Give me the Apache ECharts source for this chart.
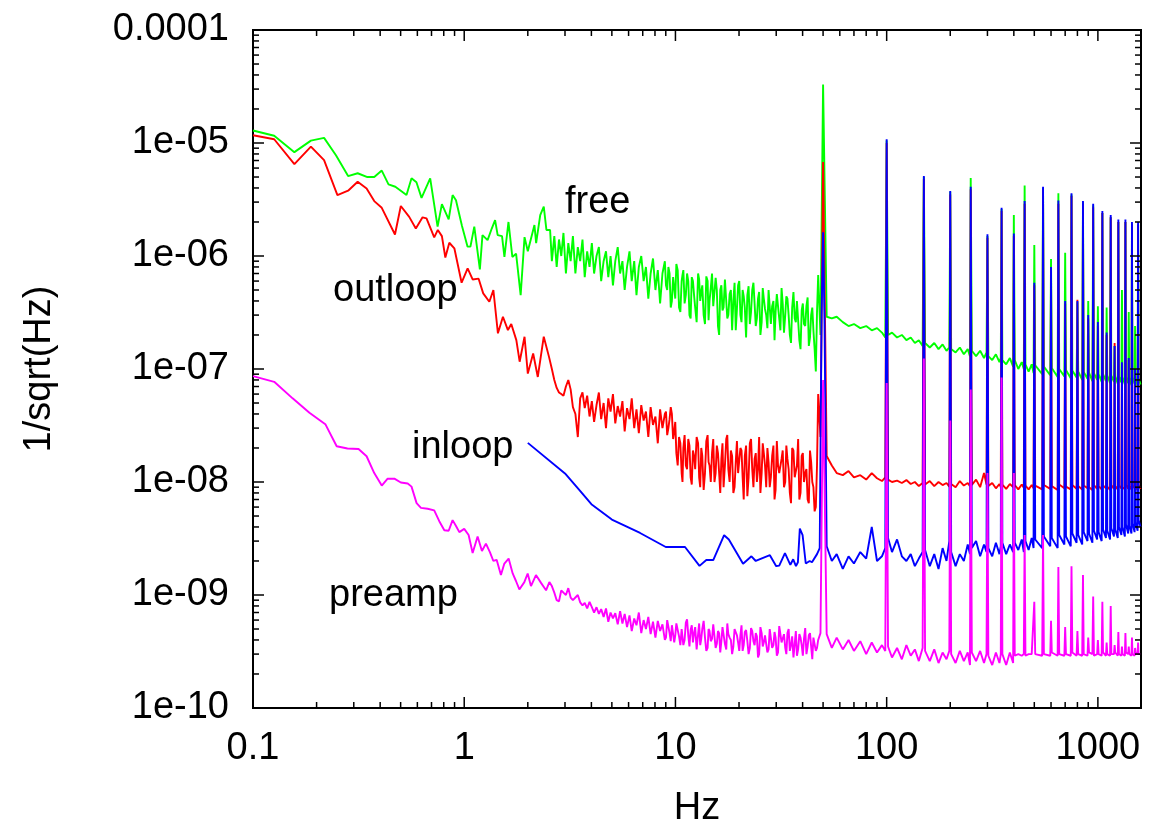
<!DOCTYPE html>
<html>
<head>
<meta charset="utf-8">
<script src="https://cdn.jsdelivr.net/npm/echarts@6/dist/echarts.min.js"></script>
<style>
  html, body { margin: 0; padding: 0; background: #fff; }
  #chart { width: 1162px; height: 825px; }
</style>
</head>
<body>
<div id="chart"></div>
<script>
// tick labels
const xTickLabels = ['0.1', '1', '10', '100', '1000'];
const yTickLabels = ['1e-10', '1e-09', '1e-08', '1e-07', '1e-06', '1e-05', '0.0001'];
const xMajorTicks = [0.1, 1, 10, 100, 1000];
const yMajorTicks = [1e-10, 1e-9, 1e-8, 1e-7, 1e-6, 1e-5, 1e-4];
const minorSteps = [2, 3, 4, 5, 6, 7, 8, 9];

// shared frequency bins (Hz)
const freqMid = [
  2.6, 2.67, 2.74, 2.81, 2.88, 2.95, 3.03, 3.11, 3.19, 3.27,
  3.36, 3.45, 3.54, 3.63, 3.72, 3.82, 3.92, 4.02, 4.12, 4.23,
  4.34, 4.45, 4.57, 4.69, 4.81, 4.93, 5.06, 5.19, 5.33, 5.47,
  5.61, 5.75, 5.9, 6.06, 6.21, 6.38, 6.54, 6.71, 6.89, 7.07,
  7.25, 7.44, 7.63, 7.83, 8.04, 8.25, 8.46, 8.68, 8.91, 9.14,
  9.38, 9.62, 9.87, 10.1, 10.4, 10.7, 10.9, 11.2, 11.5, 11.8,
  12.1, 12.4, 12.8, 13.1, 13.4, 13.8, 14.2, 14.5, 14.9, 15.3,
  15.7, 16.1, 16.5, 16.9, 17.4, 17.8, 18.3, 18.8, 19.3, 19.8,
  20.3, 20.8, 21.3, 21.9, 22.5, 23.1, 23.7, 24.3, 24.9, 25.6,
  26.2, 26.9, 27.6, 28.3, 29.1, 29.8, 30.6, 31.4, 32.2, 33.1,
  33.9, 34.8, 35.7, 36.7, 37.6, 38.6, 39.6, 40.6, 41.7, 42.8,
  43.9, 45, 46.2, 47.4, 48.6
];
// extra bins between the ones above, 9-47 Hz
const freqMid2 = [
  9.02, 9.26, 9.5, 9.75, 9.98, 10.25, 10.55, 10.8, 11.05, 11.35,
  11.65, 11.95, 12.25, 12.6, 12.95, 13.25, 13.6, 14.0, 14.35, 14.7,
  15.1, 15.5, 15.9, 16.3, 16.7, 17.15, 17.6, 18.05, 18.55, 19.05,
  19.55, 20.05, 20.55, 21.05, 21.6, 22.2, 22.8, 23.4, 24.0, 24.6,
  25.25, 25.9, 26.55, 27.25, 27.95, 28.7, 29.45, 30.2, 31.0, 31.8,
  32.65, 33.5, 34.35, 35.25, 36.2, 37.15, 38.1, 39.1, 40.1, 41.15,
  42.25, 43.35, 44.45, 45.6, 46.8
];
const freqHigh = [
  52, 55, 58, 62, 66, 70, 75, 80, 85, 90, 95, 98.5,
  101.5, 106, 112, 118, 124, 130, 136, 142, 148,
  152, 160, 168, 176, 184, 192, 198,
  202, 212, 222, 232, 242, 248,
  253, 265, 277, 289, 297,
  303, 316, 329, 342, 347,
  353, 368, 383, 397,
  404, 420, 436, 446,
  454, 470, 486, 496,
  505, 545, 555, 595, 605, 645, 656, 694, 706, 744, 757, 793, 807, 843, 857, 893, 908, 942, 958, 992,
  1008, 1042, 1058, 1092, 1108, 1142, 1158, 1192, 1208, 1242, 1258, 1292, 1308, 1342, 1358, 1392, 1408, 1442, 1458, 1492, 1508, 1542, 1558, 1592
];
const harmonics = [50, 100, 150, 200, 250, 300, 350, 400, 450, 500, 550, 600, 650, 700, 750, 800,
  850, 900, 950, 1000, 1050, 1100, 1150, 1200, 1250, 1300, 1350, 1400, 1450, 1500, 1550];

// free (mid/high in units of 1e-7)
const freeLow = [
  [0.1, 1.29e-5], [0.126, 1.16e-5], [0.157, 8.3e-6], [0.188, 1.05e-5], [0.217, 1.11e-5], [0.247, 7.8e-6],
  [0.282, 5.1e-6], [0.313, 5.4e-6], [0.348, 5.0e-6], [0.375, 5.0e-6], [0.407, 5.7e-6], [0.438, 4.3e-6],
  [0.472, 4.1e-6], [0.533, 3.46e-6], [0.563, 4.87e-6], [0.594, 4.49e-6], [0.628, 3.27e-6], [0.69, 4.87e-6],
  [0.748, 1.82e-6], [0.784, 2.88e-6], [0.844, 2.11e-6], [0.881, 3.46e-6], [0.914, 3.12e-6], [0.976, 1.84e-6],
  [1.037, 1.21e-6], [1.07, 1.21e-6], [1.116, 1.82e-6], [1.186, 7.6e-7], [1.22, 1.53e-6], [1.29, 1.38e-6],
  [1.35, 1.75e-6], [1.40, 2.08e-6], [1.44, 1.53e-6], [1.51, 1.5e-6], [1.55, 9.8e-7], [1.62, 2.0e-6],
  [1.69, 9.8e-7], [1.76, 1.05e-6], [1.85, 4.5e-7], [1.93, 1.47e-6], [2.0, 1.1e-6], [2.15, 1.88e-6],
  [2.19, 1.3e-6], [2.29, 2.3e-6], [2.38, 2.73e-6], [2.45, 1.7e-6], [2.55, 1.7e-6]
];
const freeMid = [
  9, 15, 8, 14, 10, 16, 7, 13, 9, 15,
  7, 12, 9, 14, 6.5, 11, 8, 13, 7, 10,
  12, 6, 9, 11, 6.5, 10, 5.5, 9, 12, 7,
  9, 5, 8, 11, 6, 9, 4.5, 8, 10, 6,
  8, 4.2, 7, 9.5, 5, 7.5, 3.8, 7, 9, 5,
  7, 4, 6.5, 8.5, 3.5, 6, 7.5, 4.5, 6, 2.8,
  6, 3.5, 7, 4, 5.5, 2.5, 6, 4, 7, 3.5,
  5, 2, 5.5, 3.5, 6, 3, 5, 4, 2.2, 5.5,
  3, 5, 3.5, 4.5, 2.5, 5, 3.8, 2.8, 4.8, 2.6,
  4.2, 3, 5, 2.5, 4, 3.2, 4.5, 2.2, 3.8, 3,
  4.2, 2, 3.5, 2.8, 4, 1.8, 3.3, 2.5, 3.6, 1.6,
  3, 2.2, 0.95, 6.8, 2
];
const freeMid2 = [
  5.5, 8, 3.5, 6.5, 4.2, 7.5, 3.2, 6.8, 3.8, 7,
  3, 6.5, 4.5, 2.6, 6.2, 4.8, 3, 6.6, 2.7, 5.2,
  3.6, 6.4, 2.4, 5, 3.3, 6.2, 2.8, 4.6, 2.2, 5.8,
  3.4, 6, 2.6, 4.4, 1.9, 5.4, 3.2, 5.8, 2.4, 4.2,
  2, 5.2, 3.4, 2.3, 5, 3.6, 1.8, 4.6, 2.8, 5.2,
  2.1, 4.4, 3, 1.7, 4.8, 2.6, 4, 1.5, 3.8, 2.4,
  4.3, 1.9, 3.5, 1.5, 3.2
];
const freeHigh = [
  2.9, 2.8, 2.9, 2.6, 2.4, 2.5, 2.3, 2.4, 2.2, 2.3, 2.1, 1.9,
  2.0, 2.1, 1.9, 2.0, 1.8, 1.9, 1.7, 1.8, 1.6,
  1.7, 1.55, 1.7, 1.5, 1.65, 1.45, 1.55,
  1.5, 1.4, 1.55, 1.35, 1.5, 1.3,
  1.45, 1.3, 1.45, 1.25, 1.4,
  1.3, 1.2, 1.35, 1.15, 1.25,
  1.2, 1.1, 1.25, 1.05,
  1.2, 1.0, 1.15, 1.0,
  1.1, 0.95, 1.1, 0.92,
  1.08, 0.9, 1.05, 0.88, 1.02, 0.85, 1.0, 0.86, 0.98, 0.83, 0.97, 0.84, 0.95, 0.8, 0.94, 0.82, 0.93, 0.78, 0.92, 0.8,
  0.9, 0.77, 0.9, 0.78, 0.88, 0.75, 0.88, 0.77, 0.86, 0.74, 0.86, 0.76, 0.85, 0.73, 0.85, 0.75, 0.84, 0.72, 0.84, 0.74, 0.83, 0.71, 0.83, 0.73
];
const freePeaks = [3.3e-5, 1.05e-5, 5e-6, 3.7e-6, 4.9e-6, 1.5e-6, 2.6e-6, 2.3e-6, 4.2e-6, 1.25e-6, 4e-6, 9.4e-7,
  3.6e-6, 1.07e-6, 3.5e-6, 3.9e-7, 3e-6, 4e-7, 2.8e-6, 3.6e-7, 2.4e-6, 3.5e-7, 2.2e-6, 1.6e-7, 2e-6, 5e-7,
  2e-6, 3.2e-7, 1.9e-6, 2.4e-7, 1.9e-6];

// outloop (mid/high in units of 1e-9)
const outloopLow = [
  [0.1, 1.17e-5], [0.126, 1.08e-5], [0.157, 6.5e-6], [0.188, 9.3e-6], [0.217, 7.06e-6], [0.251, 3.46e-6],
  [0.282, 3.78e-6], [0.313, 4.54e-6], [0.345, 3.96e-6], [0.375, 3.06e-6], [0.407, 2.67e-6], [0.47, 1.55e-6],
  [0.501, 2.77e-6], [0.549, 2.22e-6], [0.59, 1.75e-6], [0.635, 2.2e-6], [0.663, 2.15e-6], [0.721, 1.46e-6],
  [0.75, 1.7e-6], [0.784, 1.5e-6], [0.814, 9.7e-7], [0.85, 1.31e-6], [0.898, 1.17e-6], [0.972, 5.8e-7],
  [1.038, 7.76e-7], [1.096, 6.2e-7], [1.17, 6.3e-7], [1.23, 4.67e-7], [1.315, 3.94e-7], [1.374, 5.0e-7],
  [1.444, 2.07e-7], [1.525, 2.9e-7], [1.61, 2.21e-7], [1.67, 2.5e-7], [1.765, 1.8e-7], [1.83, 1.16e-7],
  [1.93, 1.93e-7], [2.0, 9.1e-8], [2.12, 1.37e-7], [2.23, 8.5e-8], [2.38, 1.93e-7], [2.52, 1.28e-7]
];
const outloopMid = [
  100, 80, 68, 62, 60, 58, 70, 80, 66, 46,
  40, 25, 55, 62, 45, 58, 38, 52, 34, 48,
  62, 36, 50, 30, 55, 42, 60, 33, 47, 38,
  52, 28, 45, 36, 55, 30, 44, 27, 48, 35,
  42, 25, 46, 32, 38, 22, 44, 30, 40, 26,
  36, 40, 28, 18, 25, 12, 20, 14, 24, 11,
  19, 13, 22, 9, 17, 12, 26, 14, 18, 10,
  21, 12, 16, 9, 24, 13, 19, 8, 15, 12,
  20, 11, 17, 7.5, 22, 13, 16, 10, 25, 12,
  18, 9, 15, 11, 21, 8.5, 14, 12, 19, 10,
  16, 8, 20, 11, 14, 7, 17, 10, 13, 6.5,
  15, 9, 6, 60, 25
];
const outloopMid2 = [
  42, 30, 46, 24, 34, 14, 22, 10, 26, 13,
  21, 9.5, 17, 25, 11, 20, 8.5, 23, 15, 10,
  24, 12, 18, 8, 22, 14, 26, 10, 17, 9,
  23, 12, 19, 7, 21, 11, 24, 9, 18, 13,
  8, 22, 14, 20, 9, 17, 7, 23, 12, 16,
  9, 21, 13, 6.5, 19, 11, 24, 8, 18, 12,
  7, 19, 10, 5.5, 14
];
const outloopHigh = [
  17, 14, 12, 11.5, 12.5, 11, 11.5, 10.5, 12, 10.8, 10.2, 11,
  10.5, 10, 10.3, 9.8, 10.4, 9.6, 10, 9.2, 9.8,
  9.5, 10.2, 9.2, 10, 9.4, 9.8, 9.1,
  9.6, 9.0, 10.2, 9.3, 9.8, 9.2,
  9.4, 10.5, 9, 12, 9.5,
  9.2, 9.8, 8.8, 9.6, 9.0,
  9.5, 8.7, 9.6, 9,
  9.4, 8.6, 9.5, 8.9,
  9.3, 8.6, 9.4, 8.8,
  9.3, 8.6, 9.4, 8.7, 9.2, 8.5, 9.5, 8.8, 9.1, 8.6, 9.4, 8.7, 9.2, 8.6, 9.3, 8.8, 9.0, 8.5, 9.4, 8.7,
  9.2, 8.6, 9.3, 8.8, 9.1, 8.5, 9.4, 8.7, 9.2, 8.6, 9.3, 8.8, 9.0, 8.6, 9.4, 8.7, 9.2, 8.6, 9.3, 8.8, 9.1, 8.5, 9.4, 8.7
];
const outloopPeaks = [6.8e-6, 1.0e-5, 4.8e-6, 3.5e-6, 3.9e-6, 1.45e-6, 2.5e-6, 1.5e-6, 2.9e-6, 5.5e-7, 3.9e-6, 7.5e-7,
  2.9e-6, 3.8e-7, 3.4e-6, 4.1e-7, 2.9e-6, 2.8e-7, 2.7e-6, 2.4e-7, 2.4e-6, 2e-7, 2.2e-6, 1.7e-7, 2e-6, 1.1e-7,
  2e-6, 1.2e-7, 1.9e-6, 9.5e-8, 1.9e-6];

// inloop (high in units of 1e-9)
const inloopLow = [
  [2.0, 2.22e-8], [3.0, 1.19e-8], [3.52, 8.45e-9], [4.0, 6.36e-9], [5.0, 4.65e-9], [6.8, 3.54e-9],
  [9.0, 2.66e-9], [11.1, 2.66e-9], [13.0, 1.81e-9], [14.0, 2.04e-9], [15.1, 2.04e-9], [17.0, 3.38e-9],
  [17.9, 3.1e-9], [20.9, 1.89e-9], [22.9, 2.2e-9], [24, 2.0e-9], [26, 2.13e-9], [28, 2.25e-9],
  [30, 1.8e-9], [31, 1.82e-9], [33, 2.35e-9], [35, 1.85e-9], [36.1, 2.07e-9], [37.2, 1.8e-9],
  [38, 1.95e-9], [38.8, 3.87e-9], [40, 3.38e-9], [41.4, 1.9e-9], [43.2, 2.0e-9], [44.3, 1.95e-9],
  [46.8, 2.3e-9], [48.2, 2.6e-9], [49.2, 3e-7], [50.8, 2.5e-7]
];
const inloopHigh = [
  2.7, 2.0, 2.3, 1.7, 2.2, 1.9, 2.4, 2.1, 4.0, 2.0, 2.2, 2.6,
  3.2, 2.4, 3.1, 2.2, 2.0, 2.3, 1.8, 2.1, 2.4,
  2.5, 1.8, 2.3, 1.7, 2.6, 2.0, 3.0,
  2.4, 1.8, 2.3, 2.0, 2.8, 2.3,
  2.6, 3.0, 2.2, 2.8, 2.4,
  2.6, 2.2, 2.9, 2.3, 2.7,
  2.9, 2.3, 2.8, 2.4,
  2.9, 2.5, 3.1, 2.4,
  3.0, 2.5, 3.2, 2.6,
  3.1, 2.6, 3.3, 2.7, 3.2, 2.6, 3.4, 2.8, 3.3, 2.7, 3.5, 2.9, 3.4, 2.8, 3.6, 3.0, 3.5, 2.9, 3.7, 3.1,
  3.6, 3.0, 3.8, 3.2, 3.7, 3.1, 3.9, 3.3, 3.8, 3.2, 4.0, 3.4, 4.0, 3.3, 4.2, 3.5, 4.1, 3.5, 4.3, 3.6, 4.4, 3.7, 4.6, 4.0
];
const inloopPeaks = [1.62e-6, 1.08e-5, 5.1e-6, 3.76e-6, 4.1e-6, 1.56e-6, 2.67e-6, 1.58e-6, 3.06e-6, 5.8e-7, 4.1e-6, 8.0e-7,
  3.1e-6, 4.0e-7, 3.6e-6, 4.0e-7, 3.06e-6, 3.0e-7, 2.9e-6, 2.6e-7, 2.5e-6, 2.1e-7, 2.3e-6, 1.6e-7, 2.1e-6, 1.15e-7,
  2.1e-6, 1.25e-7, 2.0e-6, 1.0e-7, 2.0e-6];

// preamp (mid/high in units of 1e-10)
const preampLow = [
  [0.1, 8.65e-8], [0.126, 7.7e-8], [0.154, 5.5e-8], [0.185, 4.1e-8], [0.22, 3.25e-8], [0.249, 2.07e-8],
  [0.28, 1.98e-8], [0.316, 1.96e-8], [0.345, 1.69e-8], [0.375, 1.2e-8], [0.407, 9.3e-9], [0.434, 1.07e-8],
  [0.467, 1.07e-8], [0.501, 9.9e-9], [0.54, 9.7e-9], [0.563, 9.1e-9], [0.595, 6.5e-9], [0.624, 5.9e-9],
  [0.671, 5.8e-9], [0.721, 5.6e-9], [0.762, 4.5e-9], [0.805, 3.74e-9], [0.844, 3.7e-9], [0.881, 4.6e-9],
  [0.913, 4.1e-9], [0.948, 3.6e-9], [1.0, 3.85e-9], [1.049, 3.4e-9], [1.096, 2.35e-9], [1.157, 3.3e-9],
  [1.213, 2.45e-9], [1.267, 2.85e-9], [1.323, 2.4e-9], [1.374, 2.0e-9], [1.424, 2.05e-9], [1.492, 1.5e-9],
  [1.549, 1.9e-9], [1.623, 2.1e-9], [1.696, 1.55e-9], [1.758, 1.33e-9], [1.824, 1.12e-9], [1.926, 1.3e-9],
  [1.997, 1.55e-9], [2.07, 1.2e-9], [2.186, 1.5e-9], [2.31, 1.28e-9], [2.44, 1.1e-9], [2.53, 1.3e-9]
];
const preampMid = [
  12, 10.5, 9, 8.8, 11, 10.5, 10, 11.5, 9.5, 9,
  9.5, 10, 8.6, 8.1, 8.5, 7.6, 8.7, 7.8, 7.0, 7.8,
  6.8, 7.5, 6.4, 7.6, 5.8, 7.0, 6.2, 6.9, 5.5, 7.2,
  5.6, 6.8, 5.2, 6.6, 4.8, 6.2, 5.4, 7.0, 4.6, 6.0,
  5.0, 6.4, 4.5, 5.8, 4.2, 5.9, 4.8, 5.5, 4.0, 6.0,
  4.6, 5.4, 3.8, 5.6, 4.3, 5.0, 3.6, 5.7, 4.4, 4.9,
  3.8, 5.2, 4.5, 3.6, 5.0, 4.2, 3.4, 4.8, 4.1, 5.3,
  3.7, 4.6, 3.9, 5.1, 3.3, 4.5, 4.0, 3.5, 4.9, 3.8,
  4.4, 3.2, 4.7, 3.9, 3.4, 4.8, 3.6, 4.3, 3.0, 4.6,
  3.8, 4.4, 3.3, 4.9, 3.6, 4.2, 3.1, 4.5, 3.9, 3.4,
  4.6, 3.2, 4.3, 3.7, 2.9, 4.5, 3.6, 4.1, 3.0, 4.4,
  3.5, 4.2, 3.2, 4.0, 4.6
];
const preampMid2 = [
  4.2, 6.2, 3.9, 5.5, 4.4, 5.8, 3.6, 5.2, 4.0, 6.1,
  3.5, 5.4, 4.6, 3.3, 5.6, 4.1, 5.9, 3.2, 5.0, 3.9,
  5.5, 3.4, 4.8, 3.1, 5.2, 3.7, 5.6, 4.2, 3.0, 5.0,
  4.4, 3.2, 5.4, 3.6, 4.9, 3.0, 5.1, 3.9, 4.6, 2.8,
  5.2, 3.5, 4.4, 3.1, 5.0, 3.4, 4.7, 2.9, 5.3, 3.8,
  4.5, 3.0, 5.0, 3.6, 2.8, 4.8, 3.3, 4.2, 2.9, 5.1,
  3.5, 4.6, 2.7, 4.1, 3.4
];
const preampHigh = [
  4.5, 3.4, 4.2, 3.3, 4.0, 3.2, 3.9, 3.0, 3.8, 3.1, 3.6, 3.2,
  3.5, 2.8, 3.4, 2.7, 3.6, 2.9, 3.3, 2.6, 3.4,
  3.2, 2.6, 3.3, 2.5, 3.1, 2.7, 3.2,
  3.0, 2.5, 3.2, 2.6, 3.1, 2.4,
  3.1, 2.6, 3.2, 2.5, 3.0,
  2.9, 2.4, 3.1, 2.5, 3.0,
  3.0, 2.4, 3.1, 2.5,
  2.9, 3.0, 2.9, 3.0,
  2.9, 3.0, 3.0, 2.9,
  3.0, 2.9, 3.0, 2.9, 3.1, 2.9, 3.0, 2.9, 3.0, 2.9, 3.1, 2.9, 3.0, 2.9, 3.0, 2.9, 3.1, 3.0, 2.9, 3.0,
  3.0, 2.9, 3.1, 2.9, 3.0, 2.9, 3.0, 3.0, 3.1, 2.9, 3.0, 2.9, 3.0, 2.9, 3.1, 3.0, 3.0, 2.9, 3.0, 2.9, 3.1, 3.0, 3.0, 3.0
];
const preampPeaks = [8e-8, 7.5e-8, 1.24e-7, 3.5e-8, 6.6e-8, 1.2e-8, 8.4e-8, 1.2e-8, 3.4e-9, 8.7e-10, 3.4e-9, 5.9e-10,
  1.77e-9, 5.2e-10, 1.8e-9, 4.8e-10, 1.5e-9, 4.2e-10, 9.7e-10, 4e-10, 8.7e-10, 3.8e-10, 8.0e-10, 3.6e-10, 4.7e-10, 3.5e-10,
  4.6e-10, 3.5e-10, 4.2e-10, 3.4e-10, 3.8e-10];

function zipInto(pts, freqs, vals, unit) {
  if (!vals) return;
  vals.forEach((v, i) => { if (i < freqs.length) pts.push([freqs[i], v * unit]); });
}

function merge(low, mid, mid2, high, peaks, unit) {
  const pts = low.slice();
  zipInto(pts, freqMid, mid, unit);
  zipInto(pts, freqMid2, mid2, unit);
  zipInto(pts, freqHigh, high, unit);
  zipInto(pts, harmonics, peaks, 1);
  return pts.sort((a, b) => a[0] - b[0]);
}

const FONT = "'Liberation Sans', Arial, sans-serif";

const myChart = echarts.init(document.getElementById('chart'), null, { renderer: 'canvas' });

const lineSeries = (name, color, data) => ({
  name: name,
  type: 'line',
  data: data,
  symbol: 'none',
  showSymbol: false,
  animation: false,
  lineStyle: { color: color, width: 1.9 },
  emphasis: { disabled: true }
});

const option = {
  animation: false,
  backgroundColor: '#fff',
  grid: {
    left: 253, top: 30, width: 888, height: 678,
    show: true, borderColor: '#000', borderWidth: 2,
    containLabel: false, outerBoundsMode: 'none'
  },
  xAxis: {
    type: 'log', logBase: 10, min: 0.1, max: 1600,
    name: 'Hz', nameLocation: 'middle', nameGap: 82,
    nameTextStyle: { fontFamily: FONT, fontSize: 38, color: '#000' },
    axisLine: { show: false }, axisTick: { show: false }, splitLine: { show: false },
    axisLabel: {
      fontFamily: FONT, fontSize: 38, color: '#000', margin: 22,
      formatter: v => {
        const e = Math.log10(v), r = Math.round(e);
        return Math.abs(e - r) < 1e-6 ? (xTickLabels[r + 1] || '') : '';
      }
    }
  },
  yAxis: {
    type: 'log', logBase: 10, min: 1e-10, max: 1e-4,
    name: '1/sqrt(Hz)', nameLocation: 'middle', nameGap: 194,
    nameTextStyle: { fontFamily: FONT, fontSize: 38, color: '#000' },
    axisLine: { show: false }, axisTick: { show: false }, splitLine: { show: false },
    axisLabel: {
      fontFamily: FONT, fontSize: 38, color: '#000', margin: 24,
      formatter: v => {
        const e = Math.log10(v), r = Math.round(e);
        return Math.abs(e - r) < 1e-6 ? (yTickLabels[r + 10] || '') : '';
      }
    }
  },
  series: [
    lineSeries('free', '#00ff00', merge(freeLow, freeMid, freeMid2, freeHigh, freePeaks, 1e-7)),
    lineSeries('outloop', '#ff0000', merge(outloopLow, outloopMid, outloopMid2, outloopHigh, outloopPeaks, 1e-9)),
    lineSeries('inloop', '#0000ff', merge(inloopLow, null, null, inloopHigh, inloopPeaks, 1e-9)),
    lineSeries('preamp', '#ff00ff', merge(preampLow, preampMid, preampMid2, preampHigh, preampPeaks, 1e-10)),
    {
      type: 'custom',
      coordinateSystem: 'cartesian2d',
      silent: true,
      clip: false,
      z: 10,
      data: [[1, 1e-7]],
      renderItem: (params, api) => {
        const cs = params.coordSys;
        const x0 = cs.x, x1 = cs.x + cs.width, y0 = cs.y, y1 = cs.y + cs.height;
        const out = [];
        const tick = (ax, ay, bx, by) => ({
          type: 'line',
          shape: { x1: ax, y1: ay, x2: bx, y2: by },
          style: { stroke: '#000', lineWidth: 1.5 }
        });
        const addX = (v, len) => {
          const px = api.coord([v, 1e-7])[0];
          out.push(tick(px, y1, px, y1 - len), tick(px, y0, px, y0 + len));
        };
        const addY = (v, len) => {
          const py = api.coord([1, v])[1];
          out.push(tick(x0, py, x0 + len, py), tick(x1, py, x1 - len, py));
        };
        xMajorTicks.forEach(v => {
          addX(v, 11);
          minorSteps.forEach(m => { if (v * m <= 1600) addX(v * m, 6); });
        });
        yMajorTicks.forEach(v => {
          addY(v, 11);
          minorSteps.forEach(m => { if (v * m < 1e-4) addY(v * m, 6); });
        });
        return { type: 'group', children: out };
      }
    }
  ],
  graphic: [
    { type: 'text', x: 565, y: 203, style: { text: 'free', font: '38px ' + FONT, fill: '#000', textVerticalAlign: 'middle' } },
    { type: 'text', x: 333, y: 291, style: { text: 'outloop', font: '38px ' + FONT, fill: '#000', textVerticalAlign: 'middle' } },
    { type: 'text', x: 412, y: 448, style: { text: 'inloop', font: '38px ' + FONT, fill: '#000', textVerticalAlign: 'middle' } },
    { type: 'text', x: 329, y: 596, style: { text: 'preamp', font: '38px ' + FONT, fill: '#000', textVerticalAlign: 'middle' } }
  ]
};

myChart.setOption(option);
window.addEventListener('resize', function () {
  myChart.resize();
});
</script>
</body>
</html>
